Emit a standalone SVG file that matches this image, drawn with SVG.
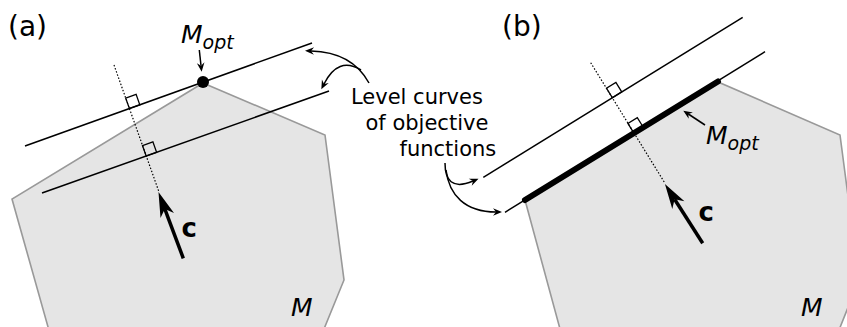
<svg xmlns="http://www.w3.org/2000/svg" width="847" height="327" viewBox="0 0 847 327">
<style>
.poly{fill:#e5e5e5;stroke:#999;stroke-width:1.6}
.lvl{fill:none;stroke:#000;stroke-width:1.5}
.dot{fill:none;stroke:#000;stroke-width:1.2;stroke-dasharray:1.5 1.8}
.sq{fill:none;stroke:#000;stroke-width:1.3}
.vec{fill:none;stroke:#000;stroke-width:3.5;marker-end:url(#big)}
.ann{fill:none;stroke:#000;stroke-width:1.5;marker-end:url(#small)}
text{font-family:"DejaVu Sans","Liberation Sans",sans-serif;fill:#000}
.lab{font-size:28px}
.txt{font-size:21px}
.it{font-style:italic;font-size:25px}
.sub{font-size:19px}
.bold{font-weight:bold;font-size:26px}
</style>
<defs>
<marker id="big" markerUnits="userSpaceOnUse" orient="auto" refX="0" refY="0" markerWidth="1" markerHeight="1" style="overflow:visible">
<path d="M18,0 L-7,-7.2 L0,0 L-7,7.2 Z" fill="#000"/>
</marker>
<marker id="small" markerUnits="userSpaceOnUse" orient="auto" refX="0" refY="0" markerWidth="1" markerHeight="1" style="overflow:visible">
<path d="M6,0 L-3,-3.8 L0,0 L-3,3.8 Z" fill="#000"/>
</marker>
</defs>

<g id="panel-a">
<g id="a-region">
<polygon class="poly" points="203,83 325,135 344,280 319.5,340 51.7,340 12,199"/>
<text class="it" x="291" y="316">M</text>
</g>
<g id="a-label"><text class="lab" x="8" y="36">(a)</text></g>
<g id="a-levels">
<line class="lvl" x1="25" y1="146" x2="312" y2="43"/>
<line class="lvl" x1="42" y1="193" x2="329" y2="91"/>
<line class="dot" x1="114" y1="65" x2="159" y2="192"/>
<polygon class="sq" points="129.4,108.5 139.8,104.8 136.1,94.4 125.7,98.1"/>
<polygon class="sq" points="146.2,156 156.6,152.3 152.9,141.9 142.5,145.6"/>
</g>
<g id="a-mopt">
<circle cx="203" cy="82" r="6" fill="#000"/>
<text class="it" x="181" y="43">M<tspan class="sub" dy="5.5">opt</tspan></text>
</g>
<g id="a-c">
<text class="bold" x="181.5" y="237">c</text>
</g>
</g>

<g id="panel-b">
<g id="b-region">
<polygon class="poly" points="525,200 718,82 840,135 859,280 835,340 563,340"/>
<text class="it" x="801" y="316">M</text>
</g>
<g id="b-label"><text class="lab" x="502" y="36">(b)</text></g>
<g id="b-levels">
<line class="lvl" x1="483.3" y1="177.3" x2="742.7" y2="17.3"/>
<line class="lvl" x1="505" y1="212.3" x2="765" y2="51.7"/>
<line class="dot" x1="590.7" y1="62.7" x2="665" y2="183.3"/>
<polygon class="sq" points="612.3,97.7 621.7,91.9 615.9,82.5 606.5,88.3"/>
<polygon class="sq" points="633.7,132.8 643.1,127 637.3,117.6 627.9,123.4"/>
</g>
<g id="b-mopt">
<line x1="525" y1="200" x2="718" y2="81.5" stroke="#000" stroke-width="6" stroke-linecap="round"/>
<text class="it" x="706" y="143.5">M<tspan class="sub" dy="6">opt</tspan></text>
</g>
<g id="b-c">
<text class="bold" x="698.5" y="221">c</text>
</g>
</g>

<g id="caption">
<text class="txt" x="351" y="104">Level curves</text>
<text class="txt" x="365.5" y="130">of objective</text>
<text class="txt" x="399.5" y="156">functions</text>
</g>

<g id="connectors">
<line class="vec" x1="183.3" y1="258.3" x2="164.8" y2="208.9"/>
<line class="vec" x1="702.7" y1="243.3" x2="674.6" y2="199.2"/>
<line class="ann" x1="199.3" y1="50" x2="201" y2="65.7"/>
<line class="ann" x1="705" y1="125" x2="688.3" y2="114"/>
<path class="ann" d="M369,83 Q352,52 311,51"/>
<path class="ann" d="M361,70 Q338,56 324,84"/>
<path class="ann" d="M445,163 C445,180 452,190 473,181"/>
<path class="ann" d="M446,170 C449,195 465,212 496,212"/>
</g>
</svg>
